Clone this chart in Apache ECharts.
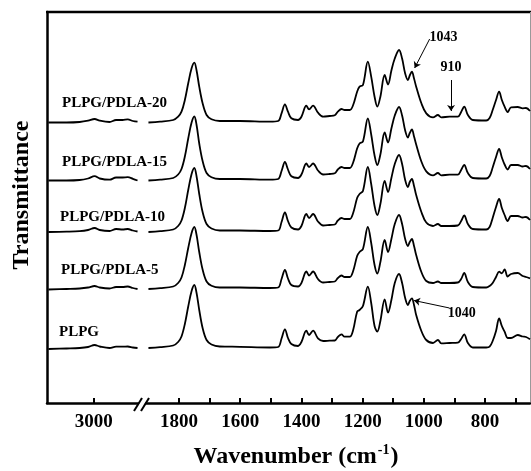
<!DOCTYPE html>
<html>
<head>
<meta charset="utf-8">
<script src="https://cdn.jsdelivr.net/npm/echarts@6/dist/echarts.min.js"></script>
<style>html,body{margin:0;padding:0;background:#fff}#c{width:531px;height:471px}</style>
</head>
<body>
<div id="c"></div>
<script>
// ---- data (heights above each spectrum's own baseline) ----
const seriesNames = ['PLPG', 'PLPG/PDLA-5', 'PLPG/PDLA-10', 'PLPG/PDLA-15', 'PLPG/PDLA-20'];
const baselines = [55, 114, 171, 222.5, 280.5];

const wnLeft = [3097, 3058, 3030, 3012, 2998, 2987, 2966, 2952, 2938, 2927, 2916, 2906];
const wnRight = [1900,1862,1819,1803,1792,1781,1770,1759,1750,1743,
  1734,1723,1710,1694,1667,1601,1503,1476,1465,1454,
  1444,1433,1411,1400,1384,1375,1362,1346,1329,1308,
  1291,1281,1269,1259,1242,1231,1218,1210,1199,1183,
  1172,1161,1152,1142,1128,1117,1106,1095,1081,1071,
  1061,1052,1046,1039,1032,1025,1008,992,970,954,
  943,916,889,878,868,856,840,796,785,775,
  764,754,745,736,726,715,693,677,666,653];

const plpgLeft = [-1,-0.5,0,1,3,1.5,0,1.3,1.3,1.5,0.5,0];
const plpgRight = [0,0.8,2.5,6,11.5,24,41.5,57,63,55.5,
  38,20,8,3.5,1.5,1.2,0.5,1,9.5,18.7,
  10,4,2,6,17.3,13,17.3,9.7,7,7.3,
  7.5,11,13.7,11.3,11.3,18,36.3,38,42,61.3,
  45,22,16.3,27,48.7,35.3,48,65,74,65,
  50,43,47,49.7,43,33,17,8,5,8,
  4.7,5,5.3,9,13.7,5,0.5,0.5,1.3,7,
  17,29.7,22,16.3,10,10,13,11.5,11,8.7];

const pdla5Left = [-0.5,0,0.5,1.5,3,1.5,0.5,2,2,2.5,1,0];
const pdla5Right = [0,0.8,2.5,6,11.5,24,41,56,62,54.5,
  37,19.5,7.5,3.3,1.5,1.5,1,1.5,10,19,
  10.5,4,2.5,6,17.5,13.5,17.5,10,6.5,7,
  7.5,11,13.5,12,12,18,33,37,40,62,
  46,24,15.5,27,49,37,50,65,74,65,
  50,43,47,50,43,34,17,8,6,7.5,
  6,6,6.5,10,16,7,2,1.5,3,6,
  12,17.3,15.7,19.7,12.5,15,16,13,12,10.7];

const pdla10Left = [0,0.3,0.8,2,4,2,1,3,2.5,3,1.5,0.5];
const pdla10Right = [0,0.8,2.5,6,11.5,24,42,58,64,56,
  38,20,8,3.5,1.5,1.5,1,1.5,10,19.5,
  11,4.5,2.5,6,18,14,18,10.5,6.5,7,
  7.5,11.5,14,13,13,19,34,38,41,65,
  48,26,17,28,51,40,54,68,77,68,
  52,45,50,53,46,37,20,9.5,6,8,
  6,6,6.5,11,16.5,8,3,2.5,5,14,
  25,33,24,17,11,16,16,14.5,15,12];

const pdla15Left = [0,0,0.5,2,4.3,2,0.8,3,3,3.3,1.7,0];
const pdla15Right = [0,0.8,2.5,6,11.5,24,42,58,64,56,
  37,19.5,7.5,3.3,1.5,1.5,0.8,1.5,9.5,18.5,
  11,4.2,2.5,6,17,13.5,17,10,6,6.5,
  7.2,11,13.5,12.5,12.5,18,32,37,39,62,
  46,25,15.5,26,48,38,52,65,73.5,65,
  50,43,47.5,51,44,36,19,9.2,5.2,7.5,
  5.2,5.8,5.8,10.5,15.5,7.5,2.5,2,4.5,13,
  23.5,31.5,23,16,11,15.5,15.5,14,14.5,11.5];

const pdla20Left = [0,0,0.5,1.8,3.5,1.8,0.5,2.5,2.5,3.2,1.5,0.8];
const pdla20Right = [0,0.8,2.5,5.8,10.8,22.5,39.2,54.2,59.8,52.5,
  35.8,19.2,7.5,3.2,1.5,1.5,0.8,1.5,9.2,18.2,
  10.8,4.2,2.5,5.8,16.8,13.2,16.8,9.8,5.8,6.5,
  7.2,10.8,13.5,12.5,12.5,17.5,30.8,35.8,37.5,60.8,
  45.8,25.8,15.8,25.8,47.5,38,52,64,72.5,64,
  49,42.5,47,50.8,44,35.8,19.2,9.2,5.2,7.5,
  5.2,5.8,5.8,10.5,15.8,7.5,2.5,2,4.5,12.5,
  22.5,30.8,22.5,15.8,10.5,15.2,15.5,14.2,14.5,11.5];

const leftData = [plpgLeft, pdla5Left, pdla10Left, pdla15Left, pdla20Left];
const rightData = [plpgRight, pdla5Right, pdla10Right, pdla15Right, pdla20Right];

const majorTicks = [1800, 1600, 1400, 1200, 1000, 800];
const minorTicks = [1800, 1700, 1600, 1500, 1400, 1300, 1200, 1100, 1000, 900, 800, 700];
const leftTicks = [3000];

// annotations: [text, wavenumber, value]
const annotationTexts = [['1043', 936, 366], ['910', 911, 336], ['1040', 876, 90]];
// arrows: [fromWn, fromVal, toWn, toVal]
const annotationArrows = [[981, 364, 1030, 335], [911, 323, 911, 292], [916, 95, 1032, 102.5]];

// label positions for series names (px)
const nameLabelPos = [[59, 332], [61, 270], [60, 217], [62, 162], [62, 103]];

const FONT = '"Liberation Serif", "Times New Roman", serif';

const chart = echarts.init(document.getElementById('c'), null, {renderer: 'canvas'});

const series = [];
seriesNames.forEach((n, i) => {
  const lineStyle = {color: '#000', width: 1.8};
  series.push({
    type: 'line', name: n + ' L', xAxisIndex: 0, yAxisIndex: 0,
    data: wnLeft.map((w, k) => [w, baselines[i] + leftData[i][k]]),
    showSymbol: false, smooth: 0.35, lineStyle, animation: false, silent: true
  });
  series.push({
    type: 'line', name: n, xAxisIndex: 1, yAxisIndex: 1,
    data: wnRight.map((w, k) => [w, baselines[i] + rightData[i][k]]),
    showSymbol: false, smooth: 0.35, lineStyle, animation: false, silent: true
  });
});

// annotation series
series.push({
  type: 'line', name: 'annot', xAxisIndex: 1, yAxisIndex: 1, data: [],
  color: '#000',
  animation: false, silent: true,
  markLine: {
    silent: true, animation: false,
    symbol: ['none', 'arrow'], symbolSize: 6,
    lineStyle: {color: '#000', width: 1, type: 'solid', opacity: 1},
    itemStyle: {color: '#000'},
    label: {show: false},
    emphasis: {disabled: true},
    data: annotationArrows.map(a => [{coord: [a[0], a[1]]}, {coord: [a[2], a[3]]}])
  },
  markPoint: {
    silent: true, animation: false, symbol: 'circle', symbolSize: 0,
    label: {show: true, position: 'inside', color: '#000', fontFamily: FONT, fontWeight: 'bold', fontSize: 14,
      formatter: p => p.name},
    data: annotationTexts.map(t => ({name: t[0], coord: [t[1], t[2]]}))
  }
});

const axisLabelStyle = {color: '#000', fontFamily: FONT, fontWeight: 'bold', fontSize: 19, margin: 10,
  formatter: v => String(v)};

const option = {
  backgroundColor: '#fff',
  animation: false,
  grid: [
    {left: 47, top: 12, width: 91, height: 391},
    {left: 146, top: 12, width: 384, height: 391}
  ],
  xAxis: [
    {type: 'value', gridIndex: 0, inverse: true, min: 2905, max: 3100,
      axisLine: {show: true, lineStyle: {color: '#000', width: 2.5}},
      axisTick: {show: true, inside: true, length: 5, lineStyle: {color: '#000', width: 2}, customValues: leftTicks},
      axisLabel: Object.assign({customValues: leftTicks}, axisLabelStyle),
      splitLine: {show: false}},
    {type: 'value', gridIndex: 1, inverse: true, min: 653, max: 1908,
      axisLine: {show: true, lineStyle: {color: '#000', width: 2.5}},
      axisTick: {show: true, inside: true, length: 5, lineStyle: {color: '#000', width: 2}, customValues: minorTicks},
      axisLabel: Object.assign({customValues: majorTicks}, axisLabelStyle),
      splitLine: {show: false}}
  ],
  yAxis: [
    {type: 'value', gridIndex: 0, min: 0, max: 391,
      axisLine: {show: true, lineStyle: {color: '#000', width: 2.5}},
      axisTick: {show: false}, axisLabel: {show: false}, splitLine: {show: false}},
    {type: 'value', gridIndex: 1, min: 0, max: 391, show: false}
  ],
  series: series,
  graphic: [
    {type: 'line', shape: {x1: 46, y1: 12, x2: 531, y2: 12}, style: {stroke: '#000', lineWidth: 2.5}, silent: true},
    {type: 'line', shape: {x1: 530.5, y1: 12, x2: 530.5, y2: 403}, style: {stroke: '#999', lineWidth: 1}, silent: true},
    {type: 'line', shape: {x1: 134, y1: 411, x2: 142, y2: 398}, style: {stroke: '#000', lineWidth: 2}, silent: true},
    {type: 'line', shape: {x1: 141, y1: 411, x2: 149, y2: 398}, style: {stroke: '#000', lineWidth: 2}, silent: true},
    {type: 'text', x: 22, y: 195, rotation: Math.PI / 2,
      style: {text: 'Transmittance', fill: '#000', font: 'bold 24px ' + FONT, textAlign: 'center', textVerticalAlign: 'middle'}},
    {type: 'text', x: 296, y: 457,
      style: {text: '{a|Wavenumber (cm}{s|-1}{a|)}', textAlign: 'center', textVerticalAlign: 'middle',
        rich: {
          a: {fill: '#000', fontFamily: FONT, fontWeight: 'bold', fontSize: 24, lineHeight: 28},
          s: {fill: '#000', fontFamily: FONT, fontWeight: 'bold', fontSize: 14, lineHeight: 28, verticalAlign: 'top', padding: [0, 1, 0, 1]}
        }}}
  ].concat(seriesNames.map((n, i) => ({
    type: 'text', x: nameLabelPos[i][0], y: nameLabelPos[i][1],
    style: {text: n, fill: '#000', font: 'bold 15px ' + FONT, textAlign: 'left', textVerticalAlign: 'middle'}
  })))
};

chart.setOption(option);
</script>
</body>
</html>
